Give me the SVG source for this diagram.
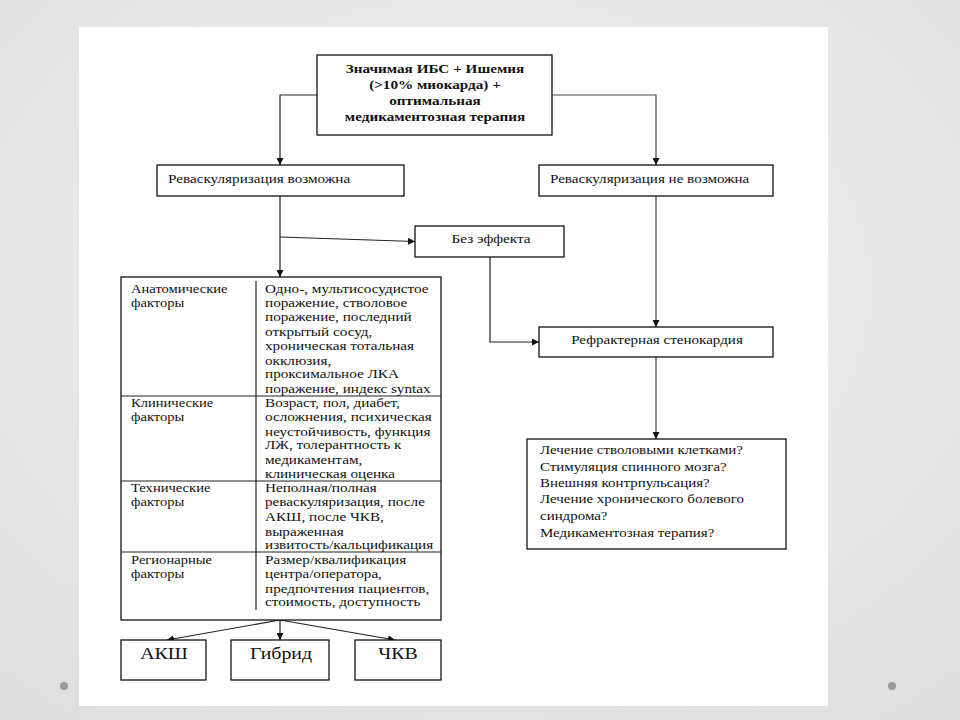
<svg xmlns="http://www.w3.org/2000/svg" width="960" height="720" viewBox="0 0 960 720">
<defs>
<radialGradient id="bg" cx="50%" cy="40%" r="75%">
<stop offset="0" stop-color="#f4f4f4"/>
<stop offset="1" stop-color="#dedede"/>
</radialGradient>
<marker id="ar" viewBox="0 0 10 10" refX="10" refY="5" markerWidth="7" markerHeight="7" markerUnits="userSpaceOnUse" orient="auto">
<path d="M0,0 L10,5 L0,10 z" fill="#111"/>
</marker>
<style>
.box{fill:#fff;stroke:#111;stroke-width:1.3}
.ln{fill:none;stroke:#222;stroke-width:1.2}
.lg{fill:none;stroke:#444;stroke-width:1.2}
text{font-family:"Liberation Serif","Times New Roman",serif;fill:#111;font-size:13px}
.b{font-weight:bold}
.c{text-anchor:middle}
.big{font-size:17px}
</style>
</defs>
<rect width="960" height="720" fill="url(#bg)"/>
<rect x="79" y="27" width="749" height="679" fill="#fff"/>
<circle cx="64" cy="686" r="4" fill="#999"/>
<circle cx="892" cy="686" r="4" fill="#999"/>

<g id="connectors">
<path class="ln" d="M317,95 H280 V165" marker-end="url(#ar)"/>
<path class="lg" d="M552,95 H656 V165" marker-end="url(#ar)"/>
<path class="ln" d="M280,196 V277" marker-end="url(#ar)"/>
<path class="ln" d="M280,237 L415,241.5" marker-end="url(#ar)"/>
<path class="ln" d="M490,257 V342 H539" marker-end="url(#ar)"/>
<path class="lg" d="M656,196 V327" marker-end="url(#ar)"/>
<path class="lg" d="M656,357 V439" marker-end="url(#ar)"/>
<path class="ln" d="M280,620 L167,640" marker-end="url(#ar)"/>
<path class="ln" d="M280,620 V640" marker-end="url(#ar)"/>
<path class="ln" d="M280,620 L395,640" marker-end="url(#ar)"/>
</g>

<g id="n-top">
<rect class="box" x="317" y="55" width="235" height="80"/>
<g transform="translate(435,0) scale(1.17,1)">
<text class="b c" x="0" y="73">Значимая ИБС + Ишемия</text>
<text class="b c" x="0" y="89">(&gt;10% миокарда) +</text>
<text class="b c" x="0" y="105" font-size="10.4">оптимальная</text>
<text class="b c" x="0" y="121" font-size="11.5">медикаментозная терапия</text>
</g>
</g>

<g id="n-reva-yes">
<rect class="box" x="157" y="165" width="247" height="31"/>
<text transform="translate(168,183) scale(1.17,1)">Реваскуляризация возможна</text>
</g>

<g id="n-reva-no">
<rect class="box" x="539" y="165" width="234" height="31"/>
<text transform="translate(550,183) scale(1.16,1)">Реваскуляризация не возможна</text>
</g>

<g id="n-noeffect">
<rect class="box" x="415" y="226" width="149" height="31"/>
<text class="c" transform="translate(491,243) scale(1.17,1)">Без эффекта</text>
</g>

<g id="n-refr">
<rect class="box" x="539" y="327" width="234" height="30"/>
<text class="c" transform="translate(657,344) scale(1.16,1)">Рефрактерная стенокардия</text>
</g>

<g id="n-options">
<rect class="box" x="527" y="439" width="259" height="110"/>
<g transform="translate(540,0) scale(1.15,1)">
<text x="0" y="454">Лечение стволовыми клетками?</text>
<text x="0" y="471">Стимуляция спинного мозга?</text>
<text x="0" y="487">Внешняя контрпульсация?</text>
<text x="0" y="503">Лечение хронического болевого</text>
<text x="0" y="520">синдрома?</text>
<text x="0" y="537">Медикаментозная терапия?</text>
</g>
</g>

<g id="n-table">
<rect class="box" x="121" y="277" width="320" height="343"/>
<path class="ln" d="M256,281 V610 M121,396 H441 M121,481 H441 M121,552 H441"/>
<g transform="translate(131,0) scale(1.12,1)">
<text x="0" y="293">Анатомические</text>
<text x="0" y="307">факторы</text>
<text x="0" y="407">Клинические</text>
<text x="0" y="421">факторы</text>
<text x="0" y="492">Технические</text>
<text x="0" y="506">факторы</text>
<text x="0" y="564">Регионарные</text>
<text x="0" y="578">факторы</text>
</g>
<g transform="translate(265,0) scale(1.17,1)">
<text x="0" y="293">Одно-, мультисосудистое</text>
<text x="0" y="307">поражение, стволовое</text>
<text x="0" y="321">поражение, последний</text>
<text x="0" y="336">открытый сосуд,</text>
<text x="0" y="350">хроническая тотальная</text>
<text x="0" y="365">окклюзия,</text>
<text x="0" y="378">проксимальное ЛКА</text>
<text x="0" y="393">поражение, индекс syntax</text>
<text x="0" y="407">Возраст, пол, диабет,</text>
<text x="0" y="421">осложнения, психическая</text>
<text x="0" y="436">неустойчивость, функция</text>
<text x="0" y="449">ЛЖ,  толерантность к</text>
<text x="0" y="464">медикаментам,</text>
<text x="0" y="478">клиническая оценка</text>
<text x="0" y="492">Неполная/полная</text>
<text x="0" y="506">реваскуляризация, после</text>
<text x="0" y="521">АКШ, после ЧКВ,</text>
<text x="0" y="536">выраженная</text>
<text x="0" y="549">извитость/кальцификация</text>
<text x="0" y="564">Размер/квалификация</text>
<text x="0" y="578">центра/оператора,</text>
<text x="0" y="593">предпочтения пациентов,</text>
<text x="0" y="606">стоимость, доступность</text>
</g>
</g>

<g id="n-akh">
<rect class="box" x="121" y="640" width="85" height="40"/>
<text class="c big" transform="translate(164,659) scale(1.17,1)">АКШ</text>
</g>
<g id="n-hybrid">
<rect class="box" x="231" y="640" width="98" height="40"/>
<text class="c big" transform="translate(281,659) scale(1.17,1)">Гибрид</text>
</g>
<g id="n-pci">
<rect class="box" x="355" y="640" width="86" height="40"/>
<text class="c big" transform="translate(398,659) scale(1.17,1)">ЧКВ</text>
</g>
</svg>
